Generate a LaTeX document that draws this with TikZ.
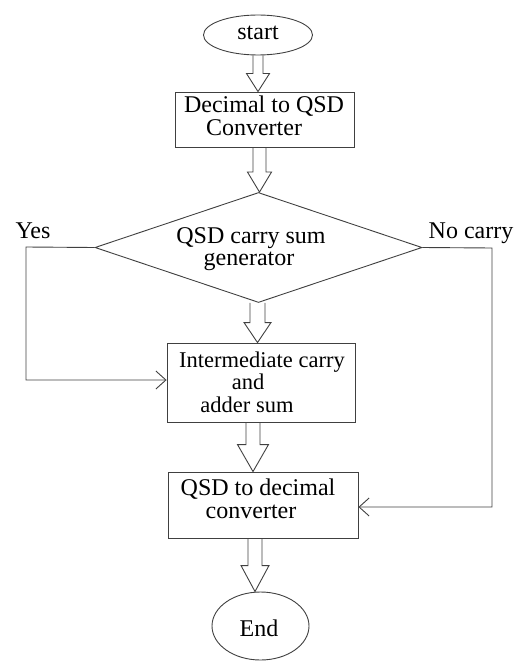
\documentclass[tikz,border=0pt]{standalone}
\usepackage{fontspec}
\setmainfont{Liberation Serif}
\usetikzlibrary{shapes.geometric,arrows.meta,calc}
\newcommand\blockarr[5]{\draw[ln] let \p1=(#1), \p2=(#2) in (\x1-#3,\y1) -- (\x1-#3,\y2+#5) -- (\x1-#4,\y2+#5) -- (\x1,\y2) -- (\x1+#4,\y2+#5) -- (\x1+#3,\y2+#5) -- (\x1+#3,\y1);}
\begin{document}
\begin{tikzpicture}[x=1bp,y=-1bp,
  ln/.style={draw=black!75, line width=0.9bp},
  term/.style={ln, ellipse, inner sep=0pt},
  proc/.style={ln, rectangle, inner sep=0pt},
  txt/.style={font=\fontsize{24bp}{26bp}\selectfont, anchor=base, inner sep=0pt},
  txts/.style={font=\fontsize{22.5bp}{24bp}\selectfont, anchor=base, inner sep=0pt},
  flow/.style={ln, -{Straight Barb[length=10bp,width=18bp,line width=0.9bp]}},
]
\useasboundingbox (0,0) rectangle (523,661);
% shapes
\node[term, minimum width=109bp, minimum height=40bp] (start) at (258,35) {};
\node[proc, minimum width=179bp, minimum height=55bp] (dec) at (264.5,119.5) {};
\node[ln, diamond, minimum width=327bp, minimum height=110bp, inner sep=0pt] (gen) at (258.5,247.5) {};
\node[proc, minimum width=188bp, minimum height=79bp] (inter) at (261,382.5) {};
\node[proc, minimum width=190bp, minimum height=66bp] (conv) at (263,505) {};
\node[term, minimum width=97bp, minimum height=68bp] (stop) at (260.5,626) {};
% texts
\node[txt] (tstart) at (258,40) {start};
\node[txt] (tdec1) at (264,113) {Decimal to QSD};
\node[txt] (tdec2) at (254,135) {Converter};
\node[txt] (tgen1) at (251,243) {QSD carry sum};
\node[txt] (tgen2) at (249,265) {generator};
\node[txt] (tyes) at (33,238) {Yes};
\node[txt] (tno) at (471,238) {No carry};
\node[txts] (tint1) at (262,367) {Intermediate carry};
\node[txts] (tint2) at (248,389.5) {and};
\node[txts] (tint3) at (247,412) {adder sum};
\node[txt] (tconv1) at (258,495) {QSD to decimal};
\node[txt] (tconv2) at (251,518) {converter};
\node[txt] (tstop) at (259,636) {End};
% block arrows
\blockarr{start.south}{dec.north}{5bp}{11.5bp}{18bp}
\blockarr{[xshift=-5bp]dec.south}{gen.north}{6.5bp}{12bp}{20bp}
\blockarr{[xshift=-1bp]gen.south}{inter.north}{7.5bp}{13.5bp}{20bp}
\blockarr{[xshift=-8bp]inter.south}{conv.north}{7bp}{15.5bp}{27bp}
\blockarr{[xshift=-8bp]conv.south}{stop.north}{7bp}{14bp}{26bp}
% side connectors
\coordinate (yl) at (26,247);
\coordinate (nr) at (492,248);
\draw[flow] (gen.west) -- (yl) |- ([yshift=2.5bp]inter.west);
\draw[flow] (gen.east) -- (nr) |- ([yshift=-2bp]conv.east);
\end{tikzpicture}
\end{document}
